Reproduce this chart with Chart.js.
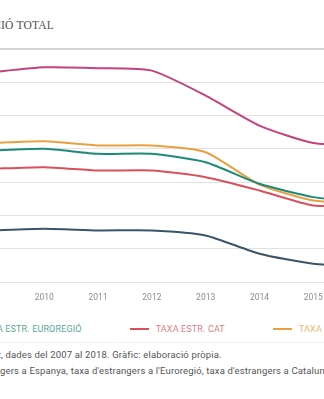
<!DOCTYPE html>
<html>
<head>
<meta charset="utf-8">
<script src="https://cdn.jsdelivr.net/npm/chart.js@4.4.1/dist/chart.umd.min.js"></script>
<style>
  html, body { margin: 0; padding: 0; background: #fff; }
  body { width: 324px; height: 399px; position: relative; overflow: hidden; font-family: Roboto, "Noto Sans", sans-serif; }
  .title { position: absolute; left: 1px; top: 19px; white-space: nowrap; font-family: "Liberation Serif", serif; font-size: 11.5px; color: #505050; letter-spacing: 0.2px; }
  .pre { position: absolute; right: 100%; top: 0; white-space: nowrap; }
  #chart-wrap { position: absolute; left: -30px; top: 0; width: 420px; height: 310px; }
  #legend { position: absolute; top: 324px; display: flex; align-items: center; gap: 48px; white-space: nowrap; font-size: 9px; letter-spacing: 0.15px; }
  #legend .item { display: flex; align-items: center; }
  #legend .swatch { width: 19px; height: 2px; margin-right: 7px; }
  .rule { position: absolute; left: 0; right: 0; top: 342px; height: 1px; background: #f1f1f1; }
  .note { position: absolute; white-space: nowrap; font-size: 9.5px; letter-spacing: 0.15px; color: #555; }
</style>
</head>
<body>
<div class="title"><span class="pre">EVOLUCIÓ DE LA TAXA D'ESTRANGERS SOBRE LA POBLAC</span>IÓ TOTAL</div>
<div id="chart-wrap"><canvas id="chart"></canvas></div>
<div id="legend"></div>
<div class="rule"></div>
<div class="note" style="left:1px; top:349px;"><span class="pre">Font: INE i Idescat</span>, dades del 2007 al 2018. Gràfic: elaboració pròpia.</div>
<div class="note" style="left:0px; top:365px;"><span class="pre">Es mostren la taxa d'estran</span>gers a Espanya, taxa d'estrangers a l'Euroregió, taxa d'estrangers a Catalunya i a les Illes Balears.</div>
<script>
// years shown on the x axis
const years = ["2009", "2010", "2011", "2012", "2013", "2014", "2015", "2016"];

// share of foreign residents (%)
const taxaEspanya    = [12.1, 12.2, 12.1, 12.1, 11.8, 10.7, 10.1, 9.9];
const taxaEuroregio  = [16.9, 17.0, 16.7, 16.7, 16.2, 14.9, 14.1, 13.8];
const taxaCat        = [15.8, 15.9, 15.7, 15.7, 15.3, 14.5, 13.6, 13.6];
const taxaGirona     = [17.35, 17.45, 17.2, 17.2, 16.8, 14.85, 13.9, 13.75];
const taxaBalears    = [21.6, 21.9, 21.85, 21.7, 20.2, 18.4, 17.35, 17.2];

const yMin = 9, yMax = 23, yStep = 2;

const series = [
  { label: "TAXA ESTR. ESPANYA", data: taxaEspanya, color: "#3a5468" },
  { label: "TAXA ESTR. EUROREGIÓ", data: taxaEuroregio, color: "#1b8a78" },
  { label: "TAXA ESTR. CAT", data: taxaCat, color: "#d9505c" },
  { label: "TAXA ESTR. GIRONA", data: taxaGirona, color: "#e9a040" },
  { label: "TAXA ESTR. BALEARS", data: taxaBalears, color: "#c4437e" }
];

const ctx = document.getElementById("chart").getContext("2d");
const chart = new Chart(ctx, {
  type: "line",
  data: {
    labels: years,
    datasets: series.map(function(s) {
      return {
        label: s.label,
        data: s.data,
        borderColor: s.color,
        backgroundColor: s.color,
        borderWidth: 2,
        pointRadius: 0,
        tension: 0.2,
        fill: false
      };
    })
  },
  options: {
    responsive: true,
    maintainAspectRatio: false,
    animation: false,
    layout: { padding: { left: 19, right: 23, top: 49, bottom: 0 } },
    plugins: {
      legend: { display: false },
      tooltip: { enabled: false }
    },
    scales: {
      x: {
        grid: { display: false, drawTicks: false },
        border: { display: false },
        ticks: { padding: 11, color: "#8c8c8c", font: { family: "Roboto", size: 8.5 } },
        afterFit: function(scale) { scale.height = 28; }
      },
      y: {
        min: yMin,
        max: yMax,
        ticks: { stepSize: yStep, display: false },
        border: { display: false },
        grid: {
          drawTicks: false,
          color: function(c) { return c.tick && c.tick.value === yMax ? "#d4d4d4" : "#e2e2e2"; },
          lineWidth: function(c) { return c.tick && c.tick.value === yMax ? 2 : 1; }
        },
        afterFit: function(scale) { scale.width = 0; }
      }
    }
  }
});

// legend built from the datasets, coloured text per series
const legendEl = document.getElementById("legend");
chart.data.datasets.forEach(function(ds) {
  const item = document.createElement("div");
  item.className = "item";
  const sw = document.createElement("span");
  sw.className = "swatch";
  sw.style.background = ds.borderColor;
  const txt = document.createElement("span");
  txt.textContent = ds.label;
  txt.style.color = ds.borderColor;
  txt.style.opacity = 0.75;
  item.appendChild(sw);
  item.appendChild(txt);
  legendEl.appendChild(item);
});
const anchor = legendEl.children[2];
legendEl.style.left = (130 - anchor.offsetLeft) + "px";
</script>
</body>
</html>
